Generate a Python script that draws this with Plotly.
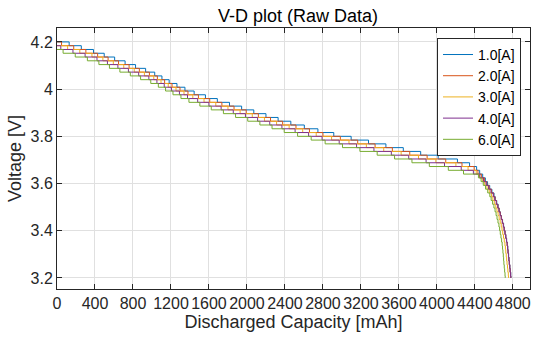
import plotly.graph_objects as go

# Shared voltage quantisation levels [V] (staircase levels), last entry = cut-off
volt_levels = [4.200, 4.184, 4.168, 4.152, 4.136, 4.120, 4.104, 4.088, 4.072, 4.056,
               4.040, 4.024, 4.008, 3.992, 3.976, 3.960, 3.944, 3.928, 3.912, 3.896,
               3.880, 3.864, 3.848, 3.832, 3.816, 3.800, 3.784, 3.768, 3.752, 3.736,
               3.720, 3.704, 3.688, 3.672, 3.656, 3.640, 3.624, 3.608, 3.592, 3.576,
               3.560, 3.544, 3.528, 3.512, 3.496, 3.480, 3.464, 3.448, 3.432, 3.416,
               3.400, 3.384, 3.368, 3.352, 3.336, 3.320, 3.304, 3.288, 3.272, 3.256,
               3.240, 3.224, 3.208, 3.200]

# Discharged capacity [mAh] at which each series reaches its levels (last levels aligned)
cap_1A = [0, 128, 256, 384, 497, 607, 717, 827, 933, 1029,
          1105, 1181, 1263, 1347, 1444, 1563, 1688, 1816, 1944, 2072,
          2200, 2328, 2462, 2604, 2747, 2914, 3097, 3280, 3463, 3646,
          3829, 4013, 4216, 4344, 4418, 4450, 4482, 4510, 4533, 4556,
          4579, 4601, 4615, 4630, 4645, 4657, 4669, 4680, 4691, 4702,
          4710, 4718, 4726, 4734, 4741, 4746, 4750, 4755, 4759, 4763,
          4768, 4772, 4777, 4779]
cap_2A = [0, 48, 176, 304, 428, 538, 648, 759, 867, 973,
          1057, 1133, 1211, 1295, 1379, 1489, 1608, 1736, 1864, 1992,
          2120, 2248, 2376, 2516, 2658, 2800, 2983, 3166, 3349, 3531,
          3714, 3897, 4093, 4264, 4392, 4432, 4468, 4500, 4525, 4550,
          4574, 4597, 4612, 4627, 4642, 4655, 4667, 4678, 4689, 4700,
          4708, 4717, 4725, 4733, 4740, 4745, 4749, 4754, 4758, 4762,
          4767, 4771, 4776, 4778]
cap_3A = [0, 112, 240, 368, 483, 593, 703, 813, 920, 1019,
          1095, 1171, 1253, 1337, 1430, 1548, 1672, 1800, 1928, 2056,
          2184, 2312, 2444, 2587, 2729, 2891, 3074, 3257, 3440, 3623,
          3806, 3989, 4200, 4328, 4414, 4448, 4478, 4503, 4527, 4551,
          4574, 4589, 4604, 4620, 4632, 4644, 4655, 4666, 4677, 4685,
          4693, 4701, 4709, 4716, 4721, 4725, 4730, 4734, 4738, 4743,
          4747, 4752, 4754]
cap_4A = [0, 40, 168, 296, 421, 531, 641, 752, 860, 967,
          1052, 1129, 1205, 1289, 1374, 1481, 1600, 1728, 1856, 1984,
          2112, 2240, 2368, 2507, 2649, 2791, 2971, 3154, 3337, 3520,
          3703, 3886, 4080, 4256, 4384, 4452, 4490, 4518, 4544, 4569,
          4593, 4608, 4624, 4640, 4652, 4665, 4676, 4688, 4699, 4707,
          4716, 4724, 4732, 4739, 4744, 4748, 4753, 4757, 4762, 4767,
          4771, 4776, 4778]
cap_6A = [0, 64, 192, 320, 441, 552, 662, 772, 880, 987,
          1067, 1143, 1221, 1305, 1389, 1504, 1624, 1752, 1880, 2008,
          2136, 2264, 2392, 2533, 2676, 2823, 3006, 3189, 3371, 3554,
          3737, 3920, 4120, 4280, 4437, 4465, 4488, 4512, 4535, 4557,
          4571, 4586, 4600, 4612, 4623, 4633, 4643, 4653, 4660, 4667,
          4674, 4681, 4687, 4691, 4695, 4699, 4702, 4705, 4709, 4713,
          4717, 4719]

series_names = ["1.0[A]", "2.0[A]", "3.0[A]", "4.0[A]", "6.0[A]"]
series_caps = [cap_1A, cap_2A, cap_3A, cap_4A, cap_6A]
series_colors = ["#0072BD", "#D95319", "#EDB120", "#7E2F8E", "#77AC30"]

x_tick_vals = [0, 400, 800, 1200, 1600, 2000, 2400, 2800, 3200, 3600, 4000, 4400, 4800]
x_tick_text = ["0", "400", "800", "1200", "1600", "2000", "2400", "2800", "3200",
               "3600", "4000", "4400", "4800"]
y_tick_vals = [3.2, 3.4, 3.6, 3.8, 4.0, 4.2]
y_tick_text = ["3.2", "3.4", "3.6", "3.8", "4", "4.2"]

FONT = "Liberation Sans, Arial, Helvetica, sans-serif"
INK = "#262626"

fig = go.Figure()
for name, caps, color in zip(series_names, series_caps, series_colors):
    volts = volt_levels[len(volt_levels) - len(caps):]
    fig.add_trace(go.Scatter(x=caps, y=volts, mode="lines", name=name,
                             line=dict(color=color, width=1, shape="hv")))

axis_common = dict(showline=True, linecolor=INK, linewidth=1, mirror="ticks",
                   ticks="inside", ticklen=5, tickcolor=INK, tickwidth=1,
                   showgrid=True, gridcolor="#e0e0e0", gridwidth=1, zeroline=False,
                   tickfont=dict(family=FONT, size=16, color=INK))

fig.update_layout(
    width=533, height=338,
    margin=dict(l=57, r=3, t=28, b=49),
    paper_bgcolor="white", plot_bgcolor="white",
    font=dict(family=FONT, color=INK),
    title=dict(text="V-D plot (Raw Data)", x=298 / 533, xanchor="center",
               y=1 - 16 / 338, yanchor="middle", yref="container",
               font=dict(family=FONT, size=18, color="#000000")),
    xaxis=dict(range=[0, 4980], tickvals=x_tick_vals, ticktext=x_tick_text,
               title=dict(text="Discharged Capacity [mAh]", standoff=3,
                          font=dict(family=FONT, size=18, color=INK)),
               **axis_common),
    yaxis=dict(range=[3.153, 4.259], tickvals=y_tick_vals, ticktext=y_tick_text,
               title=dict(text="Voltage [V]", standoff=4,
                          font=dict(family=FONT, size=18, color=INK)),
               **axis_common),
    legend=dict(x=0.981, xanchor="right", y=0.962, yanchor="top",
                bgcolor="white", bordercolor=INK, borderwidth=1,
                font=dict(family=FONT, size=14, color="#000000"),
                tracegroupgap=0),
    showlegend=True,
)

fig.write_html("out.html")
